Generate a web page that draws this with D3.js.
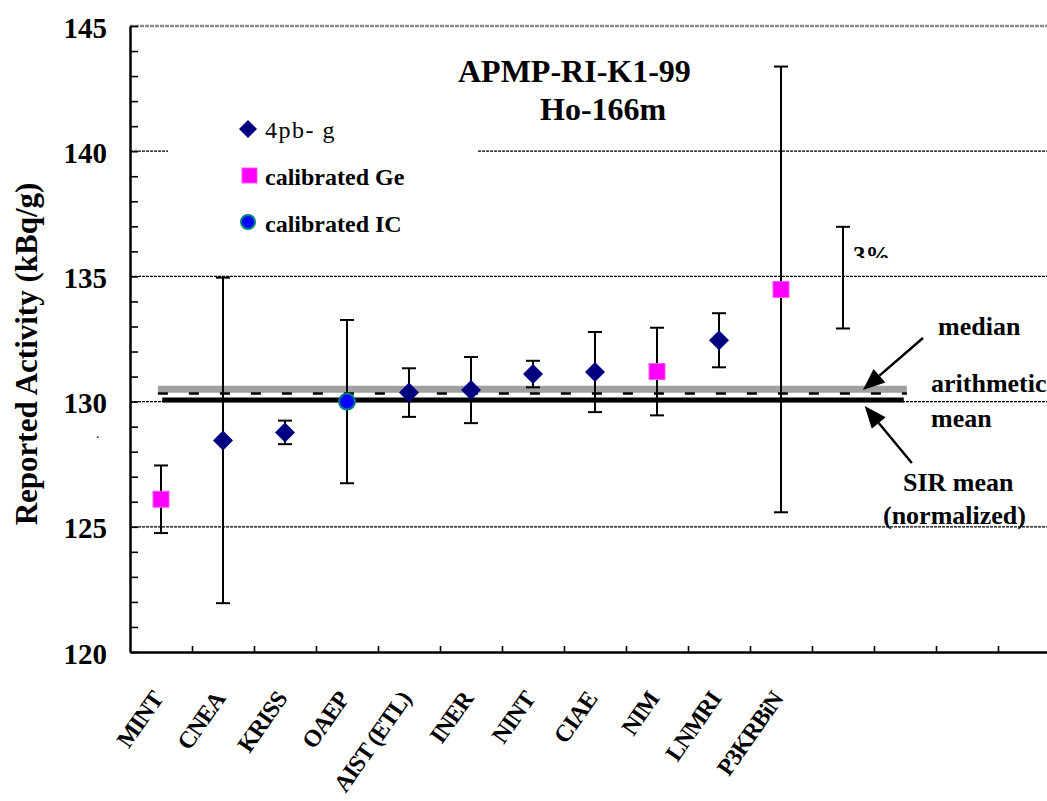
<!DOCTYPE html>
<html>
<head>
<meta charset="utf-8">
<script src="https://cdn.jsdelivr.net/npm/d3@7"></script>
<style>
  body { margin: 0; background: #fff; }
  svg { display: block; }
  text { font-family: "Liberation Serif", "Times New Roman", serif; fill: #000; }
</style>
</head>
<body>
<div id="container"></div>
<script>
const width = 1047;
const height = 801;

// laboratories (one slot each on the x axis, 15 slots total)
const labs = ["MINT", "CNEA", "KRISS", "OAEP", "AIST (ETL)", "INER", "NINT", "CIAE", "NIM", "LNMRI", "P3KRBiN"];
const values = [126.1, 128.45, 128.77, 130.0, 130.36, 130.46, 131.1, 131.18, 131.2, 132.45, 134.48];
const uncert = [1.35, 6.5, 0.47, 3.26, 0.97, 1.32, 0.53, 1.6, 1.75, 1.08, 8.9];
const method = ["Ge", "4pb", "4pb", "IC", "4pb", "4pb", "4pb", "4pb", "Ge", "4pb", "Ge"];
const nSlots = 15;

// reference values
const medianVal = 130.49;
const arithMean = 130.32;
const sirMean = 130.06;

// 3% scale bar (slot index, centre, half length)
const pctSlot = 11;
const pctCentre = 134.95;
const pctHalf = 2.03;

const yTicks = d3.range(120, 146);
const gridVals = [125, 130, 135, 140];

const x = d3.scaleLinear().domain([0, nSlots]).range([130, 1060]);
const y = d3.scaleLinear().domain([120, 145]).range([652, 26]);

const colors = { "4pb": "#000080", "Ge": "#ff00ff", "IC": "#0000ff" };

const svg = d3.select("#container")
  .append("svg")
  .attr("width", width)
  .attr("height", height);

// gridlines
svg.selectAll("line.grid")
  .data(gridVals)
  .join("line")
  .attr("class", "grid")
  .attr("x1", x(0)).attr("x2", x(nSlots))
  .attr("y1", d => y(d)).attr("y2", d => y(d))
  .attr("stroke", "#000")
  .attr("stroke-width", 1.2)
  .attr("stroke-dasharray", "3,1");

svg.append("line")
  .attr("x1", x(0)).attr("x2", x(nSlots))
  .attr("y1", y(145)).attr("y2", y(145))
  .attr("stroke", "#8a8a8a")
  .attr("stroke-width", 2.5)
  .attr("stroke-dasharray", "4,1");

// white box behind legend (hides a piece of the 140 gridline)
svg.append("rect")
  .attr("x", 168).attr("y", 100)
  .attr("width", 310).attr("height", 140)
  .attr("fill", "#fff");

// axes
const yAxis = svg.append("g")
  .attr("transform", `translate(${x(0)},0)`)
  .call(d3.axisLeft(y)
    .tickValues(yTicks)
    .tickSize(-8)
    .tickSizeOuter(0)
    .tickPadding(23)
    .tickFormat(d => d % 5 === 0 ? d : ""));
yAxis.select(".domain").attr("stroke-width", 2.5);
yAxis.selectAll(".tick line").attr("stroke-width", 1.6);
yAxis.selectAll(".tick text")
  .attr("font-size", 29)
  .attr("font-weight", "bold")
  .attr("dy", "0.38em");

const xAxis = svg.append("g")
  .attr("transform", `translate(0,${y(120)})`)
  .call(d3.axisBottom(x)
    .tickValues(d3.range(1, nSlots + 1))
    .tickSize(-6)
    .tickSizeOuter(0)
    .tickFormat(""));
xAxis.select(".domain").attr("stroke-width", 2.5);
xAxis.selectAll(".tick line").attr("stroke-width", 1.6);

// category labels
svg.selectAll("text.cat")
  .data(labs)
  .join("text")
  .attr("class", "cat")
  .attr("transform", (d, i) => `translate(${x(i + 0.5) + 3},699) rotate(-55)`)
  .attr("text-anchor", "end")
  .attr("font-size", 24)
  .attr("font-weight", "bold")
  .attr("letter-spacing", -1)
  .text(d => d);

// median / mean lines
svg.append("line")
  .attr("x1", x(0.45)).attr("x2", x(12.53))
  .attr("y1", y(medianVal)).attr("y2", y(medianVal))
  .attr("stroke", "#a0a0a0")
  .attr("stroke-width", 7);

svg.append("line")
  .attr("x1", x(0.45)).attr("x2", x(12.53))
  .attr("y1", y(arithMean)).attr("y2", y(arithMean))
  .attr("stroke", "#000")
  .attr("stroke-width", 2.5)
  .attr("stroke-dasharray", "10,21");

svg.append("line")
  .attr("x1", x(0.52)).attr("x2", x(12.48))
  .attr("y1", y(sirMean)).attr("y2", y(sirMean))
  .attr("stroke", "#000")
  .attr("stroke-width", 5);

// error bars
const bars = svg.append("g")
  .selectAll("g")
  .data(labs)
  .join("g")
  .attr("stroke", "#000")
  .attr("stroke-width", 2);

bars.append("line")
  .attr("x1", (d, i) => x(i + 0.5)).attr("x2", (d, i) => x(i + 0.5))
  .attr("y1", (d, i) => y(values[i] - uncert[i]))
  .attr("y2", (d, i) => y(values[i] + uncert[i]));
bars.append("line")
  .attr("x1", (d, i) => x(i + 0.5) - 7).attr("x2", (d, i) => x(i + 0.5) + 7)
  .attr("y1", (d, i) => y(values[i] + uncert[i]))
  .attr("y2", (d, i) => y(values[i] + uncert[i]));
bars.append("line")
  .attr("x1", (d, i) => x(i + 0.5) - 7).attr("x2", (d, i) => x(i + 0.5) + 7)
  .attr("y1", (d, i) => y(values[i] - uncert[i]))
  .attr("y2", (d, i) => y(values[i] - uncert[i]));

// markers
function drawMarker(g, type, cx, cy) {
  if (type === "4pb") {
    g.append("path")
      .attr("d", `M${cx},${cy - 10}L${cx + 10},${cy}L${cx},${cy + 10}L${cx - 10},${cy}Z`)
      .attr("fill", colors["4pb"]);
  } else if (type === "Ge") {
    g.append("rect")
      .attr("x", cx - 8).attr("y", cy - 8)
      .attr("width", 16).attr("height", 16)
      .attr("fill", colors["Ge"])
      .attr("stroke", "#ff55ff")
      .attr("stroke-width", 1);
  } else {
    g.append("circle")
      .attr("cx", cx).attr("cy", cy).attr("r", 8)
      .attr("fill", colors["IC"])
      .attr("stroke", "#008080")
      .attr("stroke-width", 2);
  }
}

const marks = svg.append("g");
labs.forEach((d, i) => drawMarker(marks, method[i], x(i + 0.5), y(values[i])));

// 3% bar
const pct = svg.append("g").attr("stroke", "#000").attr("stroke-width", 2);
const px = x(pctSlot + 0.5);
pct.append("line").attr("x1", px).attr("x2", px)
  .attr("y1", y(pctCentre - pctHalf)).attr("y2", y(pctCentre + pctHalf));
pct.append("line").attr("x1", px - 7).attr("x2", px + 7)
  .attr("y1", y(pctCentre + pctHalf)).attr("y2", y(pctCentre + pctHalf));
pct.append("line").attr("x1", px - 7).attr("x2", px + 7)
  .attr("y1", y(pctCentre - pctHalf)).attr("y2", y(pctCentre - pctHalf));

svg.append("clipPath").attr("id", "pctclip")
  .append("rect").attr("x", 840).attr("y", 200).attr("width", 100).attr("height", 58);
svg.append("text")
  .attr("x", px + 10).attr("y", 264)
  .attr("font-size", 25)
  .attr("font-weight", "bold")
  .attr("clip-path", "url(#pctclip)")
  .text("3%");

// legend
const legendItems = [
  { type: "4pb", label: "4pb- g", bold: false },
  { type: "Ge", label: "calibrated Ge", bold: true },
  { type: "IC", label: "calibrated IC", bold: true }
];
const legend = svg.append("g");
legendItems.forEach((d, i) => {
  const ly = 129 + i * 47;
  if (d.type === "4pb") {
    legend.append("path")
      .attr("d", `M248,${ly - 9}L257,${ly}L248,${ly + 9}L239,${ly}Z`)
      .attr("fill", colors["4pb"]);
  } else if (d.type === "Ge") {
    legend.append("rect")
      .attr("x", 242).attr("y", ly - 8)
      .attr("width", 15).attr("height", 15)
      .attr("fill", colors["Ge"])
      .attr("stroke", "#ff55ff");
  } else {
    legend.append("circle")
      .attr("cx", 248).attr("cy", ly - 1).attr("r", 7)
      .attr("fill", colors["IC"])
      .attr("stroke", "#008080")
      .attr("stroke-width", 2);
  }
  legend.append("text")
    .attr("x", 265).attr("y", ly + 9)
    .attr("font-size", d.bold ? 24 : 24)
    .attr("font-weight", d.bold ? "bold" : "normal")
    .attr("letter-spacing", d.bold ? 0 : 1.5)
    .text(d.label);
});

// title
svg.append("text")
  .attr("x", 458).attr("y", 82)
  .attr("font-size", 32).attr("font-weight", "bold")
  .text("APMP-RI-K1-99");
svg.append("text")
  .attr("x", 540).attr("y", 120)
  .attr("font-size", 32).attr("font-weight", "bold")
  .text("Ho-166m");

// y-axis title
svg.append("text")
  .attr("transform", "translate(37,354) rotate(-90)")
  .attr("text-anchor", "middle")
  .attr("font-size", 31)
  .attr("font-weight", "bold")
  .text("Reported Activity (kBq/g)");

svg.append("text")
  .attr("x", 96).attr("y", 438)
  .attr("font-size", 14)
  .text(".");

// annotations
const notes = [
  { t: "median", x: 938, y: 335 },
  { t: "arithmetic", x: 931, y: 392 },
  { t: "mean", x: 931, y: 427 },
  { t: "SIR mean", x: 903, y: 491 },
  { t: "(normalized)", x: 883, y: 524 }
];
svg.selectAll("text.note")
  .data(notes)
  .join("text")
  .attr("class", "note")
  .attr("x", d => d.x).attr("y", d => d.y)
  .attr("font-size", 26)
  .attr("font-weight", "bold")
  .text(d => d.t);

// arrows (slot index, value)
const arrows = [
  { from: [12.79, 132.54], to: [11.82, 130.46] },
  { from: [12.61, 127.55], to: [11.85, 129.82] }
];
arrows.forEach(a => {
  const x0 = x(a.from[0]), y0 = y(a.from[1]);
  const x1 = x(a.to[0]), y1 = y(a.to[1]);
  const ang = Math.atan2(y1 - y0, x1 - x0);
  const len = 22, half = 9;
  const bx = x1 - len * Math.cos(ang), by = y1 - len * Math.sin(ang);
  svg.append("line")
    .attr("x1", x0).attr("y1", y0).attr("x2", bx).attr("y2", by)
    .attr("stroke", "#000").attr("stroke-width", 2.5);
  svg.append("path")
    .attr("d", `M${x1},${y1}L${bx - half * Math.sin(ang)},${by + half * Math.cos(ang)}L${bx + half * Math.sin(ang)},${by - half * Math.cos(ang)}Z`)
    .attr("fill", "#000");
});
</script>
</body>
</html>
